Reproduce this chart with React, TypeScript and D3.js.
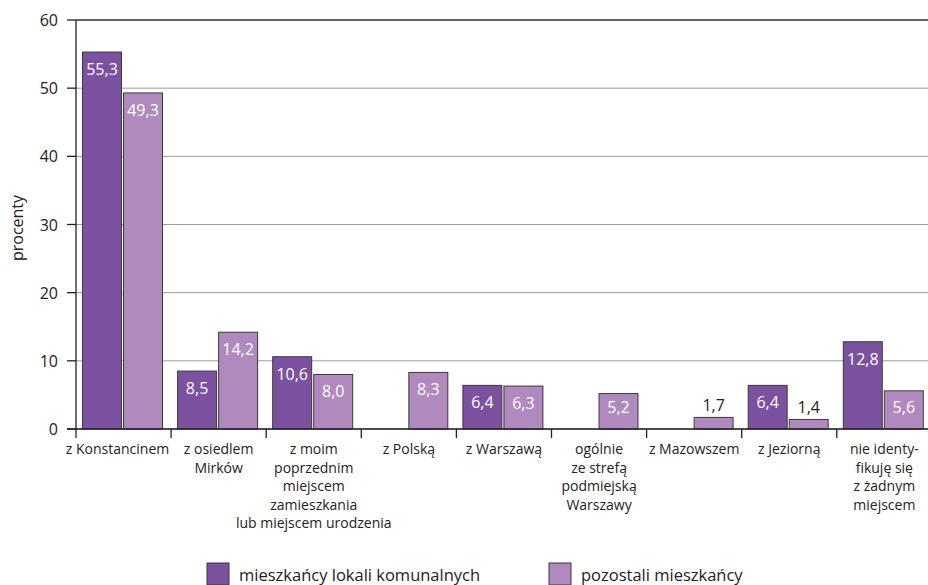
import React from "react";
import * as d3 from "d3";

const categories: string[][] = [
  ["z Konstancinem"],
  ["z osiedlem", "Mirków"],
  ["z moim", "poprzednim", "miejscem", "zamieszkania", "lub miejscem urodzenia"],
  ["z Polską"],
  ["z Warszawą"],
  ["ogólnie", "ze strefą", "podmiejską", "Warszawy"],
  ["z Mazowszem"],
  ["z Jeziorną"],
  ["nie identy-", "fikuję się", "z żadnym", "miejscem"],
];
const communalValues: (number | null)[] = [55.3, 8.5, 10.6, null, 6.4, null, null, 6.4, 12.8];
const otherValues: (number | null)[] = [49.3, 14.2, 8.0, 8.3, 6.3, 5.2, 1.7, 1.4, 5.6];
const seriesNames = ["mieszkańcy lokali komunalnych", "pozostali mieszkańcy"];
const yTicks = [0, 10, 20, 30, 40, 50, 60];
const yLabel = "procenty";

const W = 928;
const H = 585;
const FONT = "'Open Sans', sans-serif";
const COLORS = ["#7B51A0", "#B089BE"];

export default function App() {
  const left = 76;
  const bandW = 95.1;
  const x0 = d3
    .scaleBand<number>()
    .domain(categories.map((_, i) => i))
    .range([left, left + bandW * categories.length])
    .paddingInner(0)
    .paddingOuter(0);
  const x1 = d3.scaleBand<number>().domain([0, 1]).range([6.5, 86.5]).paddingInner(0.05);
  const y = d3.scaleLinear().domain([0, 60]).range([429, 20]);
  const series = [communalValues, otherValues];
  const fmt = (v: number) => v.toFixed(1).replace(".", ",");

  return (
    <svg
      width={W}
      height={H}
      style={{ position: "absolute", left: 0, top: 0, background: "#fff" }}
      fontFamily={FONT}
    >
      {/* gridlines */}
      {yTicks.map((t) => (
        <line
          key={"g" + t}
          x1={left}
          x2={W}
          y1={y(t)}
          y2={y(t)}
          stroke={t === 60 ? "#333" : "#9a9a9a"}
          strokeWidth={t === 60 ? 1.3 : 1}
        />
      ))}
      {/* bars */}
      {series.map((vals, s) =>
        vals.map((v, i) =>
          v == null ? null : (
            <rect
              key={`b${s}-${i}`}
              x={(x0(i) as number) + (x1(s) as number)}
              y={y(v)}
              width={x1.bandwidth()}
              height={y(0) - y(v)}
              fill={COLORS[s]}
              stroke="#3a3a3a"
              strokeWidth={1}
            />
          )
        )
      )}
      {/* value labels */}
      {series.map((vals, s) =>
        vals.map((v, i) => {
          if (v == null) return null;
          const cx = (x0(i) as number) + (x1(s) as number) + x1.bandwidth() / 2;
          const inside = v >= 3;
          const ty = inside ? Math.min(y(v) + 23, y(0) - 16) : y(v) - 6;
          return (
            <text
              key={`l${s}-${i}`}
              x={cx}
              y={ty}
              textAnchor="middle"
              fontSize={16}
              fill={inside ? "#fff" : "#222"}
            >
              {fmt(v)}
            </text>
          );
        })
      )}
      {/* y axis */}
      <line x1={left} x2={left} y1={y(60)} y2={438} stroke="#222" strokeWidth={1.3} />
      {yTicks.map((t) => (
        <g key={"t" + t}>
          <line x1={67} x2={left} y1={y(t)} y2={y(t)} stroke="#222" strokeWidth={1.3} />
          <text x={58} y={y(t) + 6} textAnchor="end" fontSize={16} fill="#222">
            {t}
          </text>
        </g>
      ))}
      {/* baseline */}
      <line x1={67} x2={W} y1={y(0)} y2={y(0)} stroke="#222" strokeWidth={1.3} />
      {/* category ticks */}
      {categories.map((_, i) =>
        i === 0 ? null : (
          <line
            key={"ct" + i}
            x1={x0(i) as number}
            x2={x0(i) as number}
            y1={y(0)}
            y2={438}
            stroke="#222"
            strokeWidth={1.3}
          />
        )
      )}
      {/* category labels */}
      {categories.map((lines, i) => (
        <text
          key={"c" + i}
          x={(x0(i) as number) + x0.bandwidth() / 2 - (i === 0 ? 6 : 0)}
          y={454}
          textAnchor="middle"
          fontSize={14}
          fill="#222"
        >
          {lines.map((ln, j) => (
            <tspan key={j} x={(x0(i) as number) + x0.bandwidth() / 2 - (i === 0 ? 6 : 0)} dy={j === 0 ? 0 : 18.5}>
              {ln}
            </tspan>
          ))}
        </text>
      ))}
      {/* y label */}
      <text
        transform={`translate(23, 228) rotate(-90)`}
        textAnchor="middle"
        fontSize={16}
        fill="#222"
      >
        {yLabel}
      </text>
      {/* legend */}
      {seriesNames.map((name, s) => {
        const lx = s === 0 ? 207 : 549;
        return (
          <g key={"lg" + s}>
            <rect x={lx} y={563} width={22} height={22} fill={COLORS[s]} stroke="#3a3a3a" strokeWidth={1} />
            <text x={lx + 32} y={581} fontSize={16.5} fill="#222">
              {name}
            </text>
          </g>
        );
      })}
    </svg>
  );
}
